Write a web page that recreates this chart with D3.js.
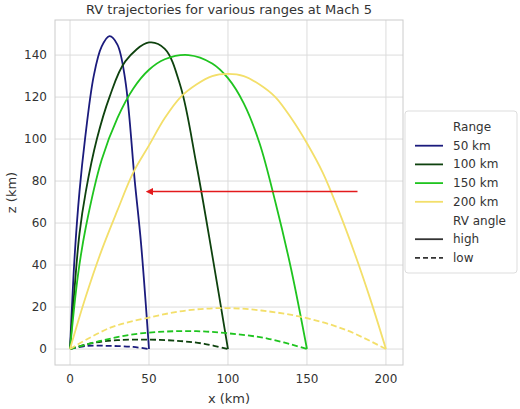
<!DOCTYPE html><html><head><meta charset="utf-8"><script src="https://d3js.org/d3.v7.min.js"></script>
<style>body{margin:0;background:#fff}text{font-family:"DejaVu Sans",sans-serif;fill:#333}</style></head><body>
<svg id="c" width="520" height="409"></svg>
<script>
const ranges=["50 km","100 km","150 km","200 km"];
const colors=["#1b1b7d","#0e420e","#1fc41f","#f3df6a"];
const highX=[[0,3,6,9.5,15,20,25,30,35,41,45,50],[0,3,6,10,17,25,35,50,60,70,80,90,100],[0,5,10,20,30,40,50,60,75,90,100,110,120,130,140,150],[0,10,20,30,40,50,60,70,80,90,100,110,120,130,140,150,160,170,180,190,200]];
const highZ=[[0,45,75,100,130,144,149,145,128,80,50,0],[0,30,55,75,100,120,137,146,143,125,88,45,0],[0,35,58,90,110,124,133,138,140,136,129,117,98,70,38,0],[0,25,47,66,84,97,110,120,126,130,131,130,126,120,110,98,84,66,46,24,0]];
const lowX=[[0,10,25,40,50],[0,15,30,50,70,85,100],[0,20,40,60,80,100,125,150],[0,25,50,75,100,125,150,175,200]];
const lowZ=[[0,1.5,1.5,1,0],[0,3,4.2,4.5,3.8,2.5,0],[0,4,7,8.3,8.5,7.5,5,0],[0,10,15,18.5,19.5,18,14.7,9,0]];
const xTicks=[0,50,100,150,200], yTicks=[0,20,40,60,80,100,120,140];
const arrow={x1:182,x2:48,z:75};
const svg=d3.select("#c");
const L=55,R=403,T=20,B=365;
const x=d3.scaleLinear().domain([-9.5,210.8]).range([L,R]);
const y=d3.scaleLinear().domain([-7.6,156.7]).range([B,T]);
svg.append("g").selectAll("line").data(xTicks).join("line").attr("x1",x).attr("x2",x).attr("y1",T).attr("y2",B).attr("stroke","#dcdcdc");
svg.append("g").selectAll("line").data(yTicks).join("line").attr("y1",y).attr("y2",y).attr("x1",L).attr("x2",R).attr("stroke","#dcdcdc");
svg.append("rect").attr("x",L).attr("y",T).attr("width",R-L).attr("height",B-T).attr("fill","none").attr("stroke","#ccc");
svg.append("g").selectAll("text").data(xTicks).join("text").attr("x",x).attr("y",B+18).attr("text-anchor","middle").attr("font-size",12).text(d=>d);
svg.append("g").selectAll("text").data(yTicks).join("text").attr("x",L-8).attr("y",d=>y(d)+4).attr("text-anchor","end").attr("font-size",12).text(d=>d);
svg.append("text").attr("x",(L+R)/2).attr("y",403).attr("text-anchor","middle").attr("font-size",13).text("x (km)");
svg.append("text").attr("transform",`translate(16,${(T+B)/2}) rotate(-90)`).attr("text-anchor","middle").attr("font-size",13).text("z (km)");
svg.append("text").attr("x",(L+R)/2).attr("y",14).attr("text-anchor","middle").attr("font-size",13).text("RV trajectories for various ranges at Mach 5");
const line=d3.line().x(d=>x(d[0])).y(d=>y(d[1])).curve(d3.curveCatmullRom.alpha(0.5));
ranges.forEach((r,i)=>{
 svg.append("path").attr("d",line(lowX[i].map((v,j)=>[v,lowZ[i][j]]))).attr("fill","none").attr("stroke",colors[i]).attr("stroke-width",1.8).attr("stroke-dasharray","6,3");
 svg.append("path").attr("d",line(highX[i].map((v,j)=>[v,highZ[i][j]]))).attr("fill","none").attr("stroke",colors[i]).attr("stroke-width",1.8);
});
svg.append("defs").append("marker").attr("id","ah").attr("viewBox","0 0 10 10").attr("refX",2).attr("refY",5).attr("markerWidth",5).attr("markerHeight",5).attr("orient","auto").append("path").attr("d","M0,0L10,5L0,10z").attr("fill","#e31a1c");
svg.append("line").attr("x1",x(arrow.x1)).attr("x2",x(arrow.x2)+6).attr("y1",y(arrow.z)).attr("y2",y(arrow.z)).attr("stroke","#e31a1c").attr("stroke-width",1.5).attr("marker-end","url(#ah)");
const lg=svg.append("g");
lg.append("rect").attr("x",405).attr("y",111).attr("width",112).attr("height",162).attr("rx",3).attr("fill","#fff").attr("stroke","#ddd");
const items=[{t:"Range",h:1}].concat(ranges.map((r,i)=>({t:r,c:colors[i]}))).concat([{t:"RV angle",h:1},{t:"high",c:"#333"},{t:"low",c:"#333",d:1}]);
items.forEach((it,k)=>{const yy=127+k*18.7;
 lg.append("text").attr("x",453).attr("y",yy+4).attr("font-size",12).text(it.t);
 if(!it.h) lg.append("line").attr("x1",415).attr("x2",443).attr("y1",yy).attr("y2",yy).attr("stroke",it.c).attr("stroke-width",1.8).attr("stroke-dasharray",it.d?"5,3":null);
});
</script></body></html>
